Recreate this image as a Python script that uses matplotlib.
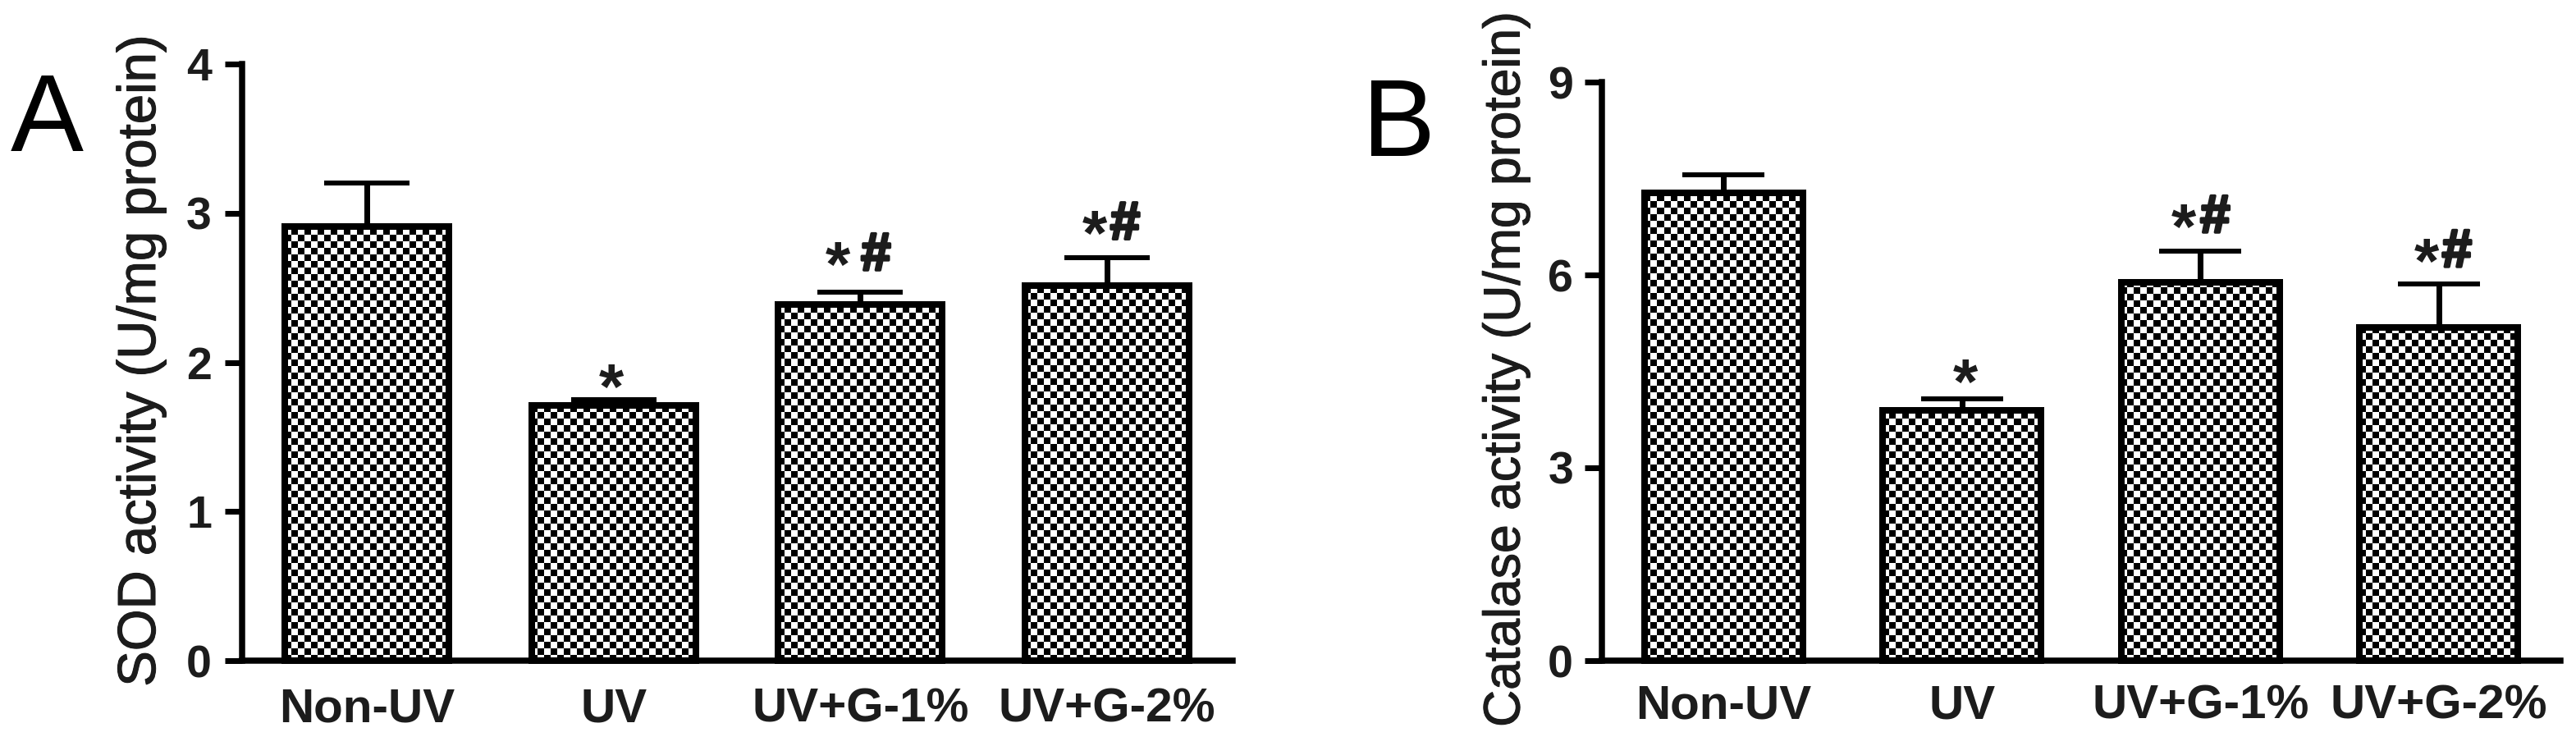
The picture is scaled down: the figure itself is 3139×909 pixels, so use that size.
#!/usr/bin/env python3
"""SOD and catalase activity bars, panels A and B. Saves out.png."""

import matplotlib
matplotlib.use('Agg')
import matplotlib.pyplot as plt
import matplotlib.patheffects as pe
from matplotlib.transforms import IdentityTransform
import numpy as np

plt.rcParams['font.family'] = ['Liberation Sans', 'DejaVu Sans']

W, H = 3139, 909
DPI = 100

GROUPS = ["Non-UV", "UV", "UV+G-1%", "UV+G-2%"]

SOD_VALUES = [2.91, 1.71, 2.39, 2.515]
SOD_ERRORS = [0.29, 0.04, 0.08, 0.185]
SOD_TICKS = [0, 1, 2, 3, 4]

CAT_VALUES = [7.28, 3.89, 5.88, 5.18]
CAT_ERRORS = [0.28, 0.18, 0.49, 0.68]
CAT_TICKS = [0, 3, 6, 9]

# significance marks per bar
SOD_MARKS = ["", "*", "*#", "*#"]
CAT_MARKS = ["", "*", "*#", "*#"]


def px(v):
    # pixels -> points
    return v * 72 / DPI


def checker_fill(ax, bar, cell=8):
    """Checkerboard inside a bar, aligned on the pixel grid."""
    bb = bar.get_window_extent()
    x0, y0 = np.floor(bb.x0), np.floor(bb.y0)
    nx = int(np.ceil(bb.width / cell)) + 1
    ny = int(np.ceil(bb.height / cell)) + 1
    yy, xx = np.indices((ny, nx))
    board = (xx + yy) % 2
    im = ax.imshow(board, cmap='gray', vmin=0, vmax=1, interpolation='nearest',
                   origin='lower', aspect='auto', transform=IdentityTransform(),
                   extent=(x0, x0 + nx * cell, y0, y0 + ny * cell), zorder=1)
    im.set_clip_path(bar)


def panel(fig, box, xlim, values, errors, ticks, ylabel, ylab_size, marks, offsets, bar_w, cap_px,
          label_pos, ylab_x, letter, letter_pos, tick_gap, lab_pad):
    left, right, bottom, top = box
    ax = fig.add_axes([left / W, 1 - bottom / H, (right - left) / W, (bottom - top) / H])
    x = np.arange(len(GROUPS))
    ax.set_xlim(*xlim)
    ax.set_ylim(ticks[0], ticks[-1])

    bars = ax.bar(x, values, width=bar_w, facecolor='none', edgecolor='black',
                  linewidth=px(8), zorder=3, clip_on=False)
    fig.canvas.draw()
    for b in bars:
        checker_fill(ax, b)
    ax.set_xlim(*xlim)
    ax.set_ylim(ticks[0], ticks[-1])

    ax.errorbar(x, values, yerr=[np.zeros(len(x)), errors], fmt='none', ecolor='black',
                elinewidth=px(7), capsize=px(cap_px / 2), capthick=px(6), zorder=2,
                clip_on=False)

    for s in ('top', 'right'):
        ax.spines[s].set_visible(False)
    for s in ('left', 'bottom'):
        ax.spines[s].set_linewidth(px(7.5))
        ax.spines[s].set_zorder(4)

    ax.set_yticks(ticks)
    ax.set_yticklabels([str(t) for t in ticks], fontsize=40, fontweight='bold', color='#1c1c1c')
    ax.tick_params(axis='y', length=px(21), width=px(7), pad=px(tick_gap))
    ax.set_xticks(x)
    ax.set_xticklabels(GROUPS, fontsize=42, fontweight='bold', color='#1c1c1c')
    ax.tick_params(axis='x', length=0, pad=px(lab_pad))

    fig.text(ylab_x / W, 1 - label_pos / H, ylabel, rotation=90, fontsize=ylab_size,
             ha='center', va='center', color='#1c1c1c',
             path_effects=[pe.withStroke(linewidth=0.8, foreground='#1c1c1c')])
    fig.text(letter_pos[0] / W, 1 - letter_pos[1] / H, letter, fontsize=96,
             ha='left', va='baseline', color='black')

    # * and # sit just above the error cap
    for i, m in enumerate(marks):
        if not m:
            continue
        tip = values[i] + errors[i]
        star_dx, hash_dx, dy = offsets[i]
        ax.annotate("*", (x[i], tip), xytext=(px(star_dx), px(dy - 16)), textcoords='offset points',
                    fontsize=56, fontweight='bold', ha='center', va='center', color='#1c1c1c',
                    annotation_clip=False)
        if '#' in m:
            ax.annotate("#", (x[i], tip), xytext=(px(hash_dx), px(dy)), textcoords='offset points',
                        fontsize=47, fontweight='bold', ha='center', va='center', color='#1c1c1c',
                        annotation_clip=False,
                        path_effects=[pe.withStroke(linewidth=2.5, foreground='#1c1c1c')])
    return ax


fig = plt.figure(figsize=(W / DPI, H / DPI), dpi=DPI, facecolor='white')

panel(fig, (295, 1502, 805, 78), (-0.5055, 3.509), SOD_VALUES, SOD_ERRORS, SOD_TICKS,
      "SOD activity (U/mg protein)", 47, SOD_MARKS,
      [None, (-3, 0, 25), (-27, 19, 44), (-15, 22, 40)],
      0.665, 104, 440, 172, "A", (13, 184), 16, 32)

panel(fig, (1952, 3120, 805, 100), (-0.51, 3.51), CAT_VALUES, CAT_ERRORS, CAT_TICKS,
      "Catalase activity (U/mg protein)", 45, CAT_MARKS,
      [None, (4, 0, 31), (-20, 18, 40), (-15, 22, 38)],
      0.665, 100, 450, 1835, "B", (1660, 190), 14, 28)

fig.savefig('out.png', dpi=DPI, facecolor='white')
